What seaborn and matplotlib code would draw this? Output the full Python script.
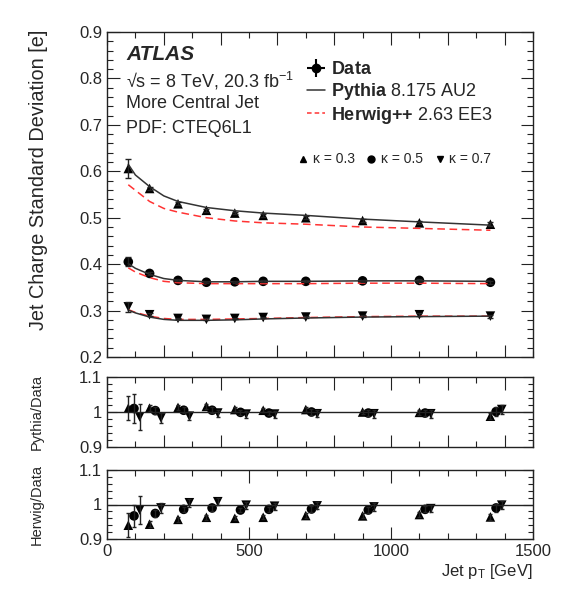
import numpy as np
import pandas as pd
import matplotlib
matplotlib.use("Agg")
import matplotlib.pyplot as plt
import seaborn as sns
from matplotlib.lines import Line2D
from matplotlib.ticker import MultipleLocator

# ---------------- data ----------------
pt_bins = [75, 150, 250, 350, 450, 550, 700, 900, 1100, 1350]
kappas = ["0.3", "0.5", "0.7"]

data_k03 = [0.606, 0.563, 0.530, 0.516, 0.510, 0.505, 0.500, 0.494, 0.489, 0.486]
data_k05 = [0.405, 0.380, 0.365, 0.361, 0.362, 0.363, 0.363, 0.364, 0.365, 0.361]
data_k07 = [0.308, 0.291, 0.283, 0.281, 0.283, 0.285, 0.286, 0.288, 0.291, 0.288]
err_k03 = [0.021, 0.004, 0.003, 0.003, 0.003, 0.003, 0.003, 0.003, 0.003, 0.004]
err_k05 = [0.010, 0.003, 0.002, 0.002, 0.002, 0.002, 0.002, 0.002, 0.003, 0.003]
err_k07 = [0.010, 0.003, 0.002, 0.002, 0.002, 0.002, 0.002, 0.002, 0.003, 0.003]

curve_pt = [75, 100, 150, 200, 250, 350, 450, 550, 700, 900, 1100, 1350]
pythia_k03 = [0.615, 0.592, 0.567, 0.547, 0.535, 0.522, 0.515, 0.510, 0.505, 0.497, 0.491, 0.484]
herwig_k03 = [0.571, 0.559, 0.535, 0.520, 0.512, 0.500, 0.493, 0.489, 0.486, 0.480, 0.477, 0.473]
pythia_k05 = [0.401, 0.391, 0.378, 0.369, 0.365, 0.362, 0.362, 0.363, 0.363, 0.364, 0.364, 0.363]
herwig_k05 = [0.392, 0.383, 0.371, 0.363, 0.360, 0.358, 0.358, 0.358, 0.358, 0.359, 0.359, 0.358]
pythia_k07 = [0.301, 0.295, 0.286, 0.281, 0.279, 0.279, 0.280, 0.282, 0.284, 0.286, 0.287, 0.288]
herwig_k07 = [0.302, 0.296, 0.288, 0.283, 0.281, 0.281, 0.282, 0.283, 0.285, 0.287, 0.288, 0.288]

# ratios MC / data
py_ratio_k03 = [1.011, 1.011, 1.013, 1.016, 1.007, 1.005, 1.007, 1.000, 0.999, 0.988]
py_ratio_k05 = [1.010, 1.004, 1.005, 1.005, 0.999, 0.997, 1.000, 0.997, 0.997, 1.001]
py_ratio_k07 = [0.986, 0.983, 0.988, 0.997, 0.994, 0.994, 0.995, 0.995, 0.995, 1.007]
py_rerr_k03 = [0.035, 0.008, 0.007, 0.007, 0.006, 0.006, 0.006, 0.007, 0.007, 0.008]
py_rerr_k05 = [0.042, 0.009, 0.008, 0.008, 0.007, 0.007, 0.008, 0.008, 0.009, 0.012]
py_rerr_k07 = [0.038, 0.014, 0.011, 0.010, 0.010, 0.010, 0.010, 0.011, 0.011, 0.012]

hw_ratio_k03 = [0.940, 0.943, 0.957, 0.963, 0.960, 0.963, 0.968, 0.967, 0.971, 0.964]
hw_ratio_k05 = [0.967, 0.974, 0.986, 0.990, 0.984, 0.986, 0.987, 0.984, 0.986, 0.990]
hw_ratio_k07 = [0.984, 0.990, 1.005, 1.008, 0.998, 0.995, 0.996, 0.993, 0.988, 0.998]
hw_rerr_k03 = [0.035, 0.008, 0.007, 0.007, 0.006, 0.006, 0.006, 0.007, 0.007, 0.008]
hw_rerr_k05 = [0.033, 0.009, 0.008, 0.008, 0.007, 0.007, 0.008, 0.008, 0.009, 0.012]
hw_rerr_k07 = [0.040, 0.014, 0.011, 0.010, 0.010, 0.010, 0.010, 0.011, 0.011, 0.012]

# ---------------- style ----------------
sns.set_style("ticks")
plt.rcParams["font.family"] = ["Liberation Sans", "DejaVu Sans"]
plt.rcParams["mathtext.fontset"] = "custom"
plt.rcParams["mathtext.rm"] = "Liberation Sans"
plt.rcParams["mathtext.bf"] = "Liberation Sans:bold"
plt.rcParams["mathtext.it"] = "Liberation Sans:italic"
plt.rcParams["axes.linewidth"] = 1.0
plt.rcParams["axes.edgecolor"] = "#222222"

markers = {"0.3": "^", "0.5": "o", "0.7": "v"}
ms_area = 48

fig = plt.figure(figsize=(5.68, 5.91), dpi=100)
L, W = 107 / 568, 426 / 568
def fy(p):
    return 1 - p / 591
ax = fig.add_axes([L, fy(357), W, fy(32) - fy(357)])
ax1 = fig.add_axes([L, fy(447), W, fy(377) - fy(447)])
ax2 = fig.add_axes([L, fy(539), W, fy(470) - fy(539)])

# ---- main panel ----
curves = pd.DataFrame({
    "pt": curve_pt * 6,
    "val": pythia_k03 + pythia_k05 + pythia_k07 + herwig_k03 + herwig_k05 + herwig_k07,
    "kappa": sum([[k] * len(curve_pt) for k in kappas], []) * 2,
    "gen": ["Pythia"] * (3 * len(curve_pt)) + ["Herwig"] * (3 * len(curve_pt)),
})
for k in kappas:
    sub = curves[(curves.kappa == k) & (curves.gen == "Herwig")]
    sns.lineplot(data=sub, x="pt", y="val", ax=ax, color="#ff3333", lw=1.1,
                 dashes=False, linestyle=(0, (5, 3)), legend=False)
    sub = curves[(curves.kappa == k) & (curves.gen == "Pythia")]
    sns.lineplot(data=sub, x="pt", y="val", ax=ax, color="#333333", lw=1.1, legend=False)

dfd = pd.DataFrame({
    "pt": pt_bins * 3,
    "val": data_k03 + data_k05 + data_k07,
    "err": err_k03 + err_k05 + err_k07,
    "kappa": sum([[k] * len(pt_bins) for k in kappas], []),
})
ax.errorbar(dfd.pt, dfd.val, yerr=dfd.err, fmt="none", ecolor="#222222", elinewidth=1.0, capsize=2)
sns.scatterplot(data=dfd, x="pt", y="val", style="kappa", markers=markers, color="black",
                s=ms_area, edgecolor="none", ax=ax, legend=False)

ax.set_xlim(0, 1500)
ax.set_ylim(0.2, 0.9)
ax.yaxis.set_major_locator(MultipleLocator(0.1))
ax.yaxis.set_minor_locator(MultipleLocator(0.02))
ax.set_ylabel("Jet Charge Standard Deviation [e]", fontsize=14.3)
ax.yaxis.set_label_coords(-0.138, 0.545)
ax.set_xlabel("")
ax.tick_params(labelbottom=False)

ax.text(0.045, 0.93, "ATLAS", transform=ax.transAxes, fontsize=15, fontweight="bold",
        fontstyle="italic", va="center")
ax.text(0.045, 0.85, "√s = 8 TeV, 20.3 fb$^{-1}$", transform=ax.transAxes, fontsize=13, va="center")
ax.text(0.045, 0.78, "More Central Jet", transform=ax.transAxes, fontsize=13, va="center")
ax.text(0.045, 0.702, "PDF: CTEQ6L1", transform=ax.transAxes, fontsize=13, va="center")

h_data = ax.errorbar([np.nan], [np.nan], xerr=[1], yerr=[1], fmt="o", color="black", ms=6)
h_py = Line2D([], [], color="#333333", lw=1.1)
h_hw = Line2D([], [], color="#ff3333", lw=1.1, linestyle=(0, (3, 2)))
leg = ax.legend([h_data, h_py, h_hw],
                [r"$\mathbf{Data}$", r"$\mathbf{Pythia}$ 8.175 AU2", r"$\mathbf{Herwig{+}{+}}$ 2.63 EE3"],
                loc="upper left", bbox_to_anchor=(0.47, 0.91), frameon=False, fontsize=13,
                handlelength=1.0, handletextpad=0.3, labelspacing=0.15, borderaxespad=0, borderpad=0)
ax.add_artist(leg)
kh = [Line2D([], [], linestyle="none", marker=markers[k], color="black", ms=5) for k in kappas]
ax.legend(kh, ["κ = 0.3", "κ = 0.5", "κ = 0.7"], loc="center left", bbox_to_anchor=(0.45, 0.608),
          ncol=3, frameon=False, fontsize=10, handlelength=0.6, handletextpad=0.4,
          columnspacing=0.9, borderaxespad=0, borderpad=0)

# ---- ratio panels ----
offsets = {"0.3": 0, "0.5": 20, "0.7": 40}
def ratio_panel(a, vals, errs, label):
    df = pd.DataFrame({
        "pt": sum([[p + offsets[k] for p in pt_bins] for k in kappas], []),
        "val": vals[0] + vals[1] + vals[2],
        "err": errs[0] + errs[1] + errs[2],
        "kappa": sum([[k] * len(pt_bins) for k in kappas], []),
    })
    a.axhline(1.0, color="#222222", lw=1.0)
    a.errorbar(df.pt, df.val, yerr=df.err, fmt="none", ecolor="#222222", elinewidth=1.0, capsize=1.5)
    sns.scatterplot(data=df, x="pt", y="val", style="kappa", markers=markers, color="black",
                    s=ms_area, edgecolor="none", ax=a, legend=False)
    a.set_xlim(0, 1500)
    a.set_ylim(0.9, 1.1)
    a.set_yticks([0.9, 1.0, 1.1])
    a.set_yticklabels(["0.9", "1", "1.1"])
    a.yaxis.set_minor_locator(MultipleLocator(0.02))
    a.set_ylabel(label, fontsize=10.5)
    a.yaxis.set_label_coords(-0.148, 0.5)
    a.set_xlabel("")

ratio_panel(ax1, [py_ratio_k03, py_ratio_k05, py_ratio_k07],
            [py_rerr_k03, py_rerr_k05, py_rerr_k07], "Pythia/Data")
ratio_panel(ax2, [hw_ratio_k03, hw_ratio_k05, hw_ratio_k07],
            [hw_rerr_k03, hw_rerr_k05, hw_rerr_k07], "Herwig/Data")
ax1.tick_params(labelbottom=False)
ax2.set_xticks([0, 500, 1000, 1500])
ax2.set_xlabel("Jet p$_{\\mathrm{T}}$ [GeV]", fontsize=12, loc="right", labelpad=2)

for a in (ax, ax1, ax2):
    a.xaxis.set_minor_locator(MultipleLocator(100))
    a.tick_params(which="both", direction="in", top=True, right=True, labelsize=12,
                  color="#222222", width=0.8)
    a.tick_params(which="major", length=9)
    a.tick_params(which="minor", length=4.5)
for a in (ax1, ax2):
    a.tick_params(which="major", axis="y", length=7)
    a.tick_params(which="minor", axis="y", length=3.5)

fig.savefig("out.png", dpi=100)
